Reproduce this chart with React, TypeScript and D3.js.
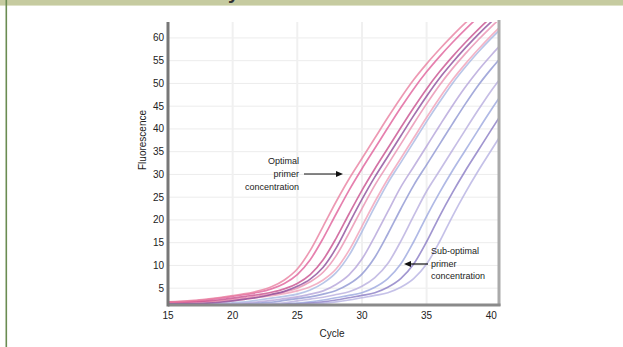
import React from "react";
import * as d3 from "d3";

// qPCR amplification curves, fluorescence per cycle
const cycles = [15, 16, 17, 18, 19, 20, 21, 22, 23, 24, 25, 26, 27, 28, 29, 30, 31, 32, 33, 34, 35, 36, 37, 38, 39, 40, 41];

const curves = [
  { color: "#f0a0b8", values: [2.0, 2.0, 2.0, 2.0, 2.1, 2.3, 2.6, 2.95, 3.35, 3.8, 4.4, 5.3, 6.8, 9.2, 13.3, 18.6, 24.0, 29.0, 33.5, 38.0, 42.5, 46.8, 50.8, 54.3, 57.5, 60.5, 63.3] },
  { color: "#a8b8e2", values: [1.5, 1.5, 1.5, 1.5, 1.6, 1.8, 2.0, 2.4, 2.8, 3.2, 3.7, 4.6, 6.1, 8.4, 12.2, 17.4, 22.9, 28.1, 32.6, 37.1, 41.6, 45.9, 50.0, 53.6, 56.9, 59.9, 62.7] },
  { color: "#b4a4da", values: [1.5, 1.5, 1.5, 1.5, 1.5, 1.6, 1.7, 2.0, 2.3, 2.7, 3.1, 3.7, 4.4, 5.8, 7.9, 11.4, 16.4, 21.8, 27.2, 31.7, 36.2, 40.7, 45.1, 49.2, 52.9, 56.2, 59.3] },
  { color: "#8e96d2", values: [1.4, 1.4, 1.4, 1.4, 1.4, 1.4, 1.5, 1.7, 1.9, 2.3, 2.7, 3.1, 3.7, 4.5, 5.9, 8.1, 11.8, 16.9, 22.4, 27.6, 32.1, 36.6, 41.1, 45.5, 49.6, 53.2, 56.5] },
  { color: "#b8aede", values: [1.4, 1.4, 1.4, 1.4, 1.4, 1.4, 1.4, 1.5, 1.6, 1.8, 2.2, 2.6, 3.0, 3.6, 4.2, 5.4, 7.3, 10.4, 15.3, 20.9, 26.3, 30.8, 35.3, 39.8, 44.2, 48.4, 52.2] },
  { color: "#9ca8de", values: [1.3, 1.3, 1.3, 1.3, 1.3, 1.3, 1.3, 1.3, 1.4, 1.5, 1.7, 2.0, 2.4, 2.9, 3.4, 4.0, 5.2, 7.1, 10.3, 15.2, 20.8, 26.0, 30.8, 35.3, 39.8, 44.2, 48.4] },
  { color: "#8a7cc4", values: [1.3, 1.3, 1.3, 1.3, 1.3, 1.3, 1.3, 1.3, 1.3, 1.4, 1.5, 1.7, 2.0, 2.4, 2.9, 3.4, 4.0, 5.2, 7.1, 10.3, 15.2, 20.8, 26.0, 30.8, 35.3, 39.8, 44.2] },
  { color: "#b6b2e2", values: [1.3, 1.3, 1.3, 1.3, 1.3, 1.3, 1.3, 1.3, 1.3, 1.3, 1.4, 1.5, 1.7, 2.0, 2.4, 2.9, 3.4, 4.0, 5.2, 7.1, 10.3, 15.2, 20.8, 26.0, 30.8, 35.3, 39.8] },
  { color: "#e890b0", values: [2.0, 2.0, 2.0, 2.07, 2.24, 2.51, 2.88, 3.28, 3.68, 4.2, 5.0, 6.4, 8.5, 12.1, 17.1, 22.5, 27.65, 32.15, 36.65, 41.15, 45.5, 49.6, 53.25, 56.55, 59.6, 62.45, 65.05] },
  { color: "#8c4c9a", values: [1.6, 1.6, 1.6, 1.7, 1.9, 2.2, 2.6, 3.0, 3.6, 4.3, 5.4, 7.0, 9.6, 13.8, 19.2, 24.5, 29.45, 33.95, 38.45, 42.93, 47.2, 51.15, 54.6, 57.8, 60.8, 63.55, 66.0] },
  { color: "#c8508e", values: [2.0, 2.0, 2.05, 2.2, 2.45, 2.8, 3.2, 3.6, 4.1, 4.85, 6.05, 8.0, 11.25, 15.95, 21.3, 26.5, 31.25, 35.75, 40.25, 44.65, 48.8, 52.55, 55.9, 59.0, 61.9, 64.55, 66.9] },
  { color: "#e0609a", values: [2.0, 2.05, 2.2, 2.45, 2.8, 3.2, 3.6, 4.1, 4.85, 6.05, 8.0, 11.25, 15.95, 21.3, 26.5, 31.25, 35.75, 40.25, 44.65, 48.8, 52.55, 55.9, 59.0, 61.9, 64.55, 66.9, 69.0] },
  { color: "#e87fa0", values: [2.0, 2.1, 2.3, 2.6, 2.95, 3.35, 3.8, 4.4, 5.3, 6.8, 9.2, 13.3, 18.6, 24.0, 29.0, 33.5, 38.0, 42.5, 46.8, 50.8, 54.3, 57.5, 60.5, 63.3, 65.8, 68.0, 70.0] },
];

const yTicks = [5, 10, 15, 20, 25, 30, 35, 40, 45, 50, 55, 60];
const xTicks = [15, 20, 25, 30, 35, 40];
const vGrid = [20, 25, 30, 35];

const W = 623;
const H = 347;
const left = 168, right = 499, top = 22, bottom = 305;

export default function App() {
  const x = d3.scaleLinear().domain([15, 40.6]).range([left, right]);
  const y = d3.scaleLinear().domain([1.3, 63.5]).range([bottom, top]);

  const line = d3
    .line<number>()
    .x((_, i) => x(cycles[i]))
    .y((d) => y(d))
    .curve(d3.curveMonotoneX);

  const font = "'Liberation Sans', Arial, sans-serif";

  return (
    <svg
      width={W}
      height={H}
      style={{ position: "absolute", left: 0, top: 0, background: "#fff" }}
      fontFamily={font}
    >
      <defs>
        <clipPath id="plot">
          <rect x={left} y={top} width={right - left} height={bottom - top} />
        </clipPath>
        <filter id="soft">
          <feGaussianBlur stdDeviation="0.45" />
        </filter>
      </defs>

      {/* header band and page edge */}
      <rect x={0} y={0} width={W} height={5} fill="#c6cba0" />
      <rect x={0} y={5} width={W} height={1} fill="#dfe2c8" />
      <text x={228} y={-1} fontSize={20} fontWeight="bold" fill="#333" fontFamily={font}>
        y
      </text>
      <rect x={5.5} y={0} width={1.6} height={H} fill="#6a8c52" />

      {/* grid */}
      {yTicks.map((t) => (
        <line key={"h" + t} x1={left} x2={right} y1={y(t)} y2={y(t)} stroke="#ececec" strokeWidth={1} />
      ))}
      {vGrid.map((t) => (
        <line key={"v" + t} x1={x(t)} x2={x(t)} y1={top} y2={bottom} stroke="#f0f0f0" strokeWidth={2} />
      ))}

      {/* curves */}
      <g clipPath="url(#plot)" filter="url(#soft)">
        {curves.map((c, i) => (
          <path
            key={i}
            d={line(c.values) || ""}
            fill="none"
            stroke={c.color}
            strokeWidth={1.7}
            strokeOpacity={0.8}
          />
        ))}
      </g>

      {/* frame */}
      <line x1={right} x2={right} y1={top - 2} y2={bottom + 1} stroke="#aaaaaa" strokeWidth={3} />
      <line x1={left} x2={right + 1.5} y1={bottom} y2={bottom} stroke="#8a8a8a" strokeWidth={3} />
      <line x1={left} x2={left} y1={top} y2={bottom + 1.5} stroke="#777" strokeWidth={3} />

      {/* y ticks */}
      {yTicks.map((t) => (
        <text key={"yt" + t} x={164} y={y(t)} dy="0.35em" textAnchor="end" fontSize={10} fill="#222">
          {t}
        </text>
      ))}
      {/* x ticks */}
      {xTicks.map((t) => (
        <text key={"xt" + t} x={x(t)} y={315} dy="0.35em" textAnchor="middle" fontSize={10} fill="#222">
          {t}
        </text>
      ))}

      <text x={332} y={333} dy="0.35em" textAnchor="middle" fontSize={10} fill="#222">
        Cycle
      </text>
      <text
        transform={`translate(142,140) rotate(-90)`}
        textAnchor="middle"
        dy="0.35em"
        fontSize={10}
        fill="#222"
      >
        Fluorescence
      </text>

      {/* annotations */}
      <g fontSize={9} fill="#222">
        <text x={299} y={161} dy="0.35em" textAnchor="end">Optimal</text>
        <text x={299} y={174} dy="0.35em" textAnchor="end">primer</text>
        <text x={299} y={187} dy="0.35em" textAnchor="end">concentration</text>
        <text x={431} y={251} dy="0.35em">Sub-optimal</text>
        <text x={431} y={264} dy="0.35em">primer</text>
        <text x={431} y={276} dy="0.35em">concentration</text>
      </g>
      <line x1={304} x2={337} y1={174} y2={174} stroke="#111" strokeWidth={1.2} />
      <path d="M343,174 L336,171 L336,177 Z" fill="#111" />
      <line x1={428} x2={410} y1={264} y2={264} stroke="#111" strokeWidth={1.2} />
      <path d="M404,264 L411,261 L411,267 Z" fill="#111" />
    </svg>
  );
}
